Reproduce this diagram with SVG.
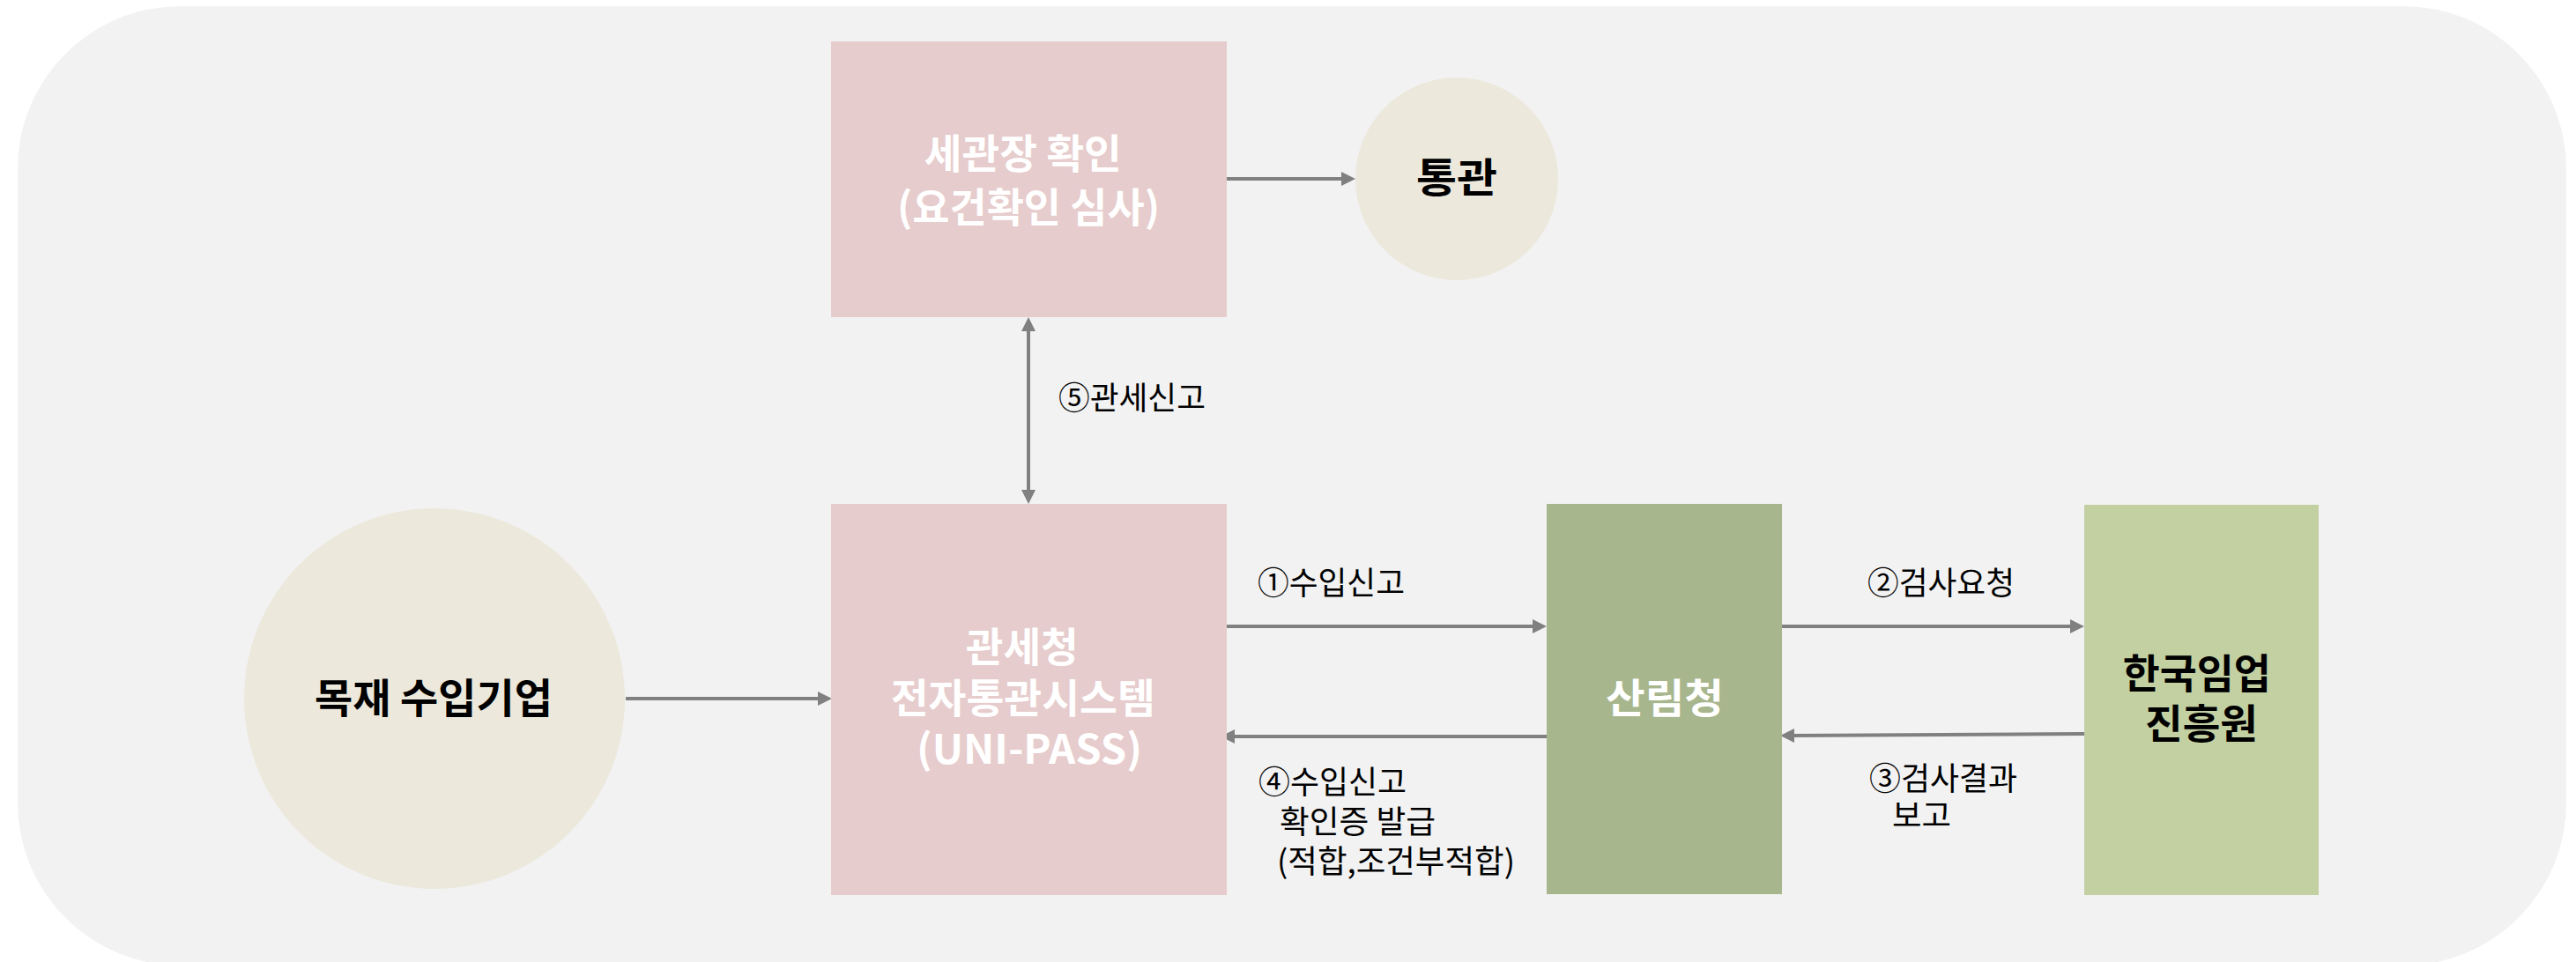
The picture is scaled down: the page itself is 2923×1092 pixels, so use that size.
<svg xmlns="http://www.w3.org/2000/svg" width="2923" height="1092" viewBox="0 0 2923 1092">
  <defs>
    <marker id="arr" markerUnits="userSpaceOnUse" markerWidth="16" markerHeight="16" refX="6" refY="8" orient="auto-start-reverse">
      <path d="M0,0 L16,8 L0,16 z" fill="#808080"/>
    </marker>
    <style>
      .title { font-family: "Noto Sans CJK KR", "Noto Sans", sans-serif; font-size: 46px; font-weight: 700; text-anchor: middle; }
      .white { fill: #FFFFFF; }
      .black { fill: #000000; }
      .label { font-family: "Noto Sans CJK KR", "Noto Sans", sans-serif; font-size: 36px; font-weight: 400; fill: #000000; }
      .conn { stroke: #808080; stroke-width: 4; fill: none; }
      .pink { fill: #E6CCCC; }
      .beige { fill: #ECE8DC; }
    </style>
  </defs>

  <rect id="background" x="20" y="7" width="2892" height="1089" rx="185" ry="185" fill="#F2F2F2"/>

  <g id="connectors">
    <line class="conn" x1="1392" y1="203" x2="1528" y2="203" marker-end="url(#arr)"/>
    <line class="conn" x1="1167" y1="370" x2="1167" y2="562" marker-start="url(#arr)" marker-end="url(#arr)"/>
    <line class="conn" x1="710" y1="793" x2="934" y2="793" marker-end="url(#arr)"/>
    <line class="conn" x1="1385" y1="711" x2="1745" y2="711" marker-end="url(#arr)"/>
    <line class="conn" x1="1755" y1="836" x2="1395" y2="836" marker-end="url(#arr)"/>
    <line class="conn" x1="2022" y1="711" x2="2355" y2="711" marker-end="url(#arr)"/>
    <line class="conn" x1="2365" y1="833" x2="2030" y2="835" marker-end="url(#arr)"/>
  </g>

  <g id="node-customs-check">
    <rect class="pink" x="943" y="47" width="449" height="313"/>
    <text class="title white">
      <tspan x="1166" y="191" textLength="224" lengthAdjust="spacingAndGlyphs">세관장 확인</tspan>
      <tspan x="1167" y="252" textLength="298" lengthAdjust="spacingAndGlyphs">(요건확인 심사)</tspan>
    </text>
  </g>

  <g id="node-clearance">
    <circle class="beige" cx="1653" cy="203" r="115"/>
    <text class="title black" x="1653" y="218" textLength="92" lengthAdjust="spacingAndGlyphs">통관</text>
  </g>

  <g id="node-importer">
    <circle class="beige" cx="493" cy="793" r="216"/>
    <text class="title black" x="492" y="809" textLength="270" lengthAdjust="spacingAndGlyphs">목재 수입기업</text>
  </g>

  <g id="node-unipass">
    <rect class="pink" x="943" y="572" width="449" height="444"/>
    <text class="title white">
      <tspan x="1165" y="751" textLength="128" lengthAdjust="spacingAndGlyphs">관세청</tspan>
      <tspan x="1166" y="809" textLength="300" lengthAdjust="spacingAndGlyphs">전자통관시스템</tspan>
      <tspan x="1168" y="867" textLength="256" lengthAdjust="spacingAndGlyphs">(UNI-PASS)</tspan>
    </text>
  </g>

  <g id="node-forest-service">
    <rect x="1755" y="572" width="267" height="443" fill="#A7B68D"/>
    <text class="title white" x="1889" y="809" textLength="134" lengthAdjust="spacingAndGlyphs">산림청</text>
  </g>

  <g id="node-forestry-promotion">
    <rect x="2365" y="573" width="266" height="443" fill="#C3D0A2"/>
    <text class="title black">
      <tspan x="2498" y="781" textLength="168" lengthAdjust="spacingAndGlyphs">한국임업</tspan>
      <tspan x="2498" y="838" textLength="128" lengthAdjust="spacingAndGlyphs">진흥원</tspan>
    </text>
  </g>

  <g id="labels">
    <text class="label" x="1201" y="465" textLength="167" lengthAdjust="spacingAndGlyphs">⑤관세신고</text>
    <text class="label" x="1427" y="675" textLength="167" lengthAdjust="spacingAndGlyphs">①수입신고</text>
    <text class="label" x="2119" y="675" textLength="167" lengthAdjust="spacingAndGlyphs">②검사요청</text>
    <text class="label">
      <tspan x="2121" y="897" textLength="168" lengthAdjust="spacingAndGlyphs">③검사결과</tspan>
      <tspan x="2147" y="939" textLength="67" lengthAdjust="spacingAndGlyphs">보고</tspan>
    </text>
    <text class="label">
      <tspan x="1428" y="901" textLength="168" lengthAdjust="spacingAndGlyphs">④수입신고</tspan>
      <tspan x="1452" y="946" textLength="177" lengthAdjust="spacingAndGlyphs">확인증 발급</tspan>
      <tspan x="1449" y="991" textLength="270" lengthAdjust="spacingAndGlyphs">(적합,조건부적합)</tspan>
    </text>
  </g>
</svg>
